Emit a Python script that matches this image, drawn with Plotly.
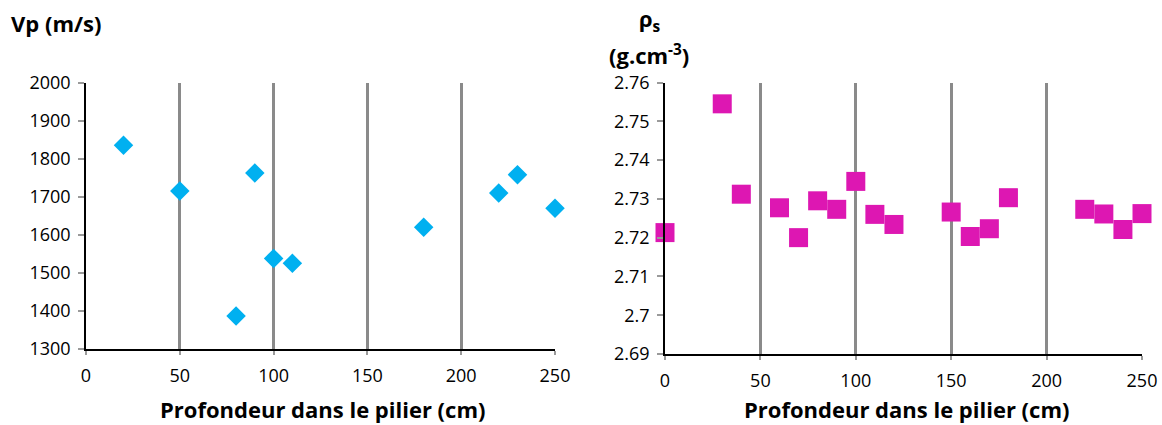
import plotly.graph_objects as go

# Left chart: Vp (m/s)
vp_depth = [20, 50, 80, 90, 100, 110, 180, 220, 230, 250]
vp_values = [1835, 1715, 1387, 1762, 1538, 1525, 1620, 1710, 1758, 1670]

# Right chart: rho_s (g.cm-3)
rho_depth = [0, 30, 40, 60, 70, 80, 90, 100, 110, 120, 150, 160, 170, 180, 220, 230, 240, 250]
rho_values = [2.7213, 2.7545, 2.7312, 2.7277, 2.7200, 2.7295, 2.7273, 2.7345, 2.7260, 2.7234,
              2.7266, 2.7203, 2.7223, 2.7303, 2.7273, 2.7261, 2.7221, 2.7262]

x_ticks = [0, 50, 100, 150, 200, 250]
vp_ticks = [1300, 1400, 1500, 1600, 1700, 1800, 1900, 2000]
rho_ticks = [2.69, 2.70, 2.71, 2.72, 2.73, 2.74, 2.75, 2.76]
rho_ticktext = ["2.69", "2.7", "2.71", "2.72", "2.73", "2.74", "2.75", "2.76"]

x_title = "Profondeur dans le pilier (cm)"
font_family = "Open Sans, Noto Sans, sans-serif"

W, H = 1162, 425


def px_x(p):
    return p / W


def px_y(p):
    return 1 - p / H


fig = go.Figure()
fig.add_trace(go.Scatter(x=vp_depth, y=vp_values, mode="markers", xaxis="x", yaxis="y",
                         marker=dict(symbol="diamond", size=15, color="#00B0F0"),
                         showlegend=False, cliponaxis=False))
fig.add_trace(go.Scatter(x=rho_depth, y=rho_values, mode="markers", xaxis="x2", yaxis="y2",
                         marker=dict(symbol="square", size=19, color="#DD17B2"),
                         showlegend=False, cliponaxis=False))

tickfont = dict(family=font_family, size=18, color="black")
xaxis_common = dict(range=[0, 250], tickvals=x_ticks, showgrid=True, gridcolor="#8A8A8A",
                    gridwidth=2.5, zeroline=False, showline=True, linecolor="black", linewidth=1.5,
                    ticks="outside", ticklen=4, tickwidth=2, tickcolor="#9A9A9A",
                    ticklabelstandoff=6, automargin=False, tickfont=tickfont)
yaxis_common = dict(showgrid=False, zeroline=False, showline=True, linecolor="black", linewidth=1.5,
                    ticks="outside", ticklen=6, tickwidth=1.5, tickcolor="#9A9A9A",
                    ticklabelstandoff=4, automargin=False, tickfont=tickfont)

title_font = dict(family=font_family, size=22, color="black")

fig.update_layout(
    width=W, height=H,
    margin=dict(l=0, r=0, t=0, b=0, pad=0, autoexpand=False),
    paper_bgcolor="white", plot_bgcolor="white",
    xaxis=dict(domain=[px_x(86), px_x(555)], anchor="y", **xaxis_common),
    yaxis=dict(domain=[px_y(349), px_y(82.5)], anchor="x", range=[1300, 2000], tickvals=vp_ticks,
               **yaxis_common),
    xaxis2=dict(domain=[px_x(665), px_x(1142)], anchor="y2", **xaxis_common),
    yaxis2=dict(domain=[px_y(354), px_y(82.5)], anchor="x2", range=[2.69, 2.76], tickvals=rho_ticks,
                ticktext=rho_ticktext, **yaxis_common),
    annotations=[
        dict(text="<b>Vp (m/s)</b>", x=px_x(9), y=px_y(23), xref="paper", yref="paper", showarrow=False,
             xanchor="left", yanchor="middle", font=title_font),
        dict(text="<b>ρ<sub>s</sub></b>", x=px_x(650), y=px_y(20), xref="paper", yref="paper",
             showarrow=False, xanchor="center", yanchor="middle", font=title_font),
        dict(text="<b>(g.cm<sup>-3</sup>)</b>", x=px_x(649), y=px_y(54), xref="paper", yref="paper",
             showarrow=False, xanchor="center", yanchor="middle", font=title_font),
        dict(text="<b>" + x_title + "</b>", x=px_x(322), y=px_y(409), xref="paper", yref="paper",
             showarrow=False, xanchor="center", yanchor="middle", font=title_font),
        dict(text="<b>" + x_title + "</b>", x=px_x(906), y=px_y(409), xref="paper", yref="paper",
             showarrow=False, xanchor="center", yanchor="middle", font=title_font),
    ],
)

fig.write_html("out.html", config={"displayModeBar": False},
               post_script="document.body.style.margin='0';document.body.style.overflow='hidden';")
